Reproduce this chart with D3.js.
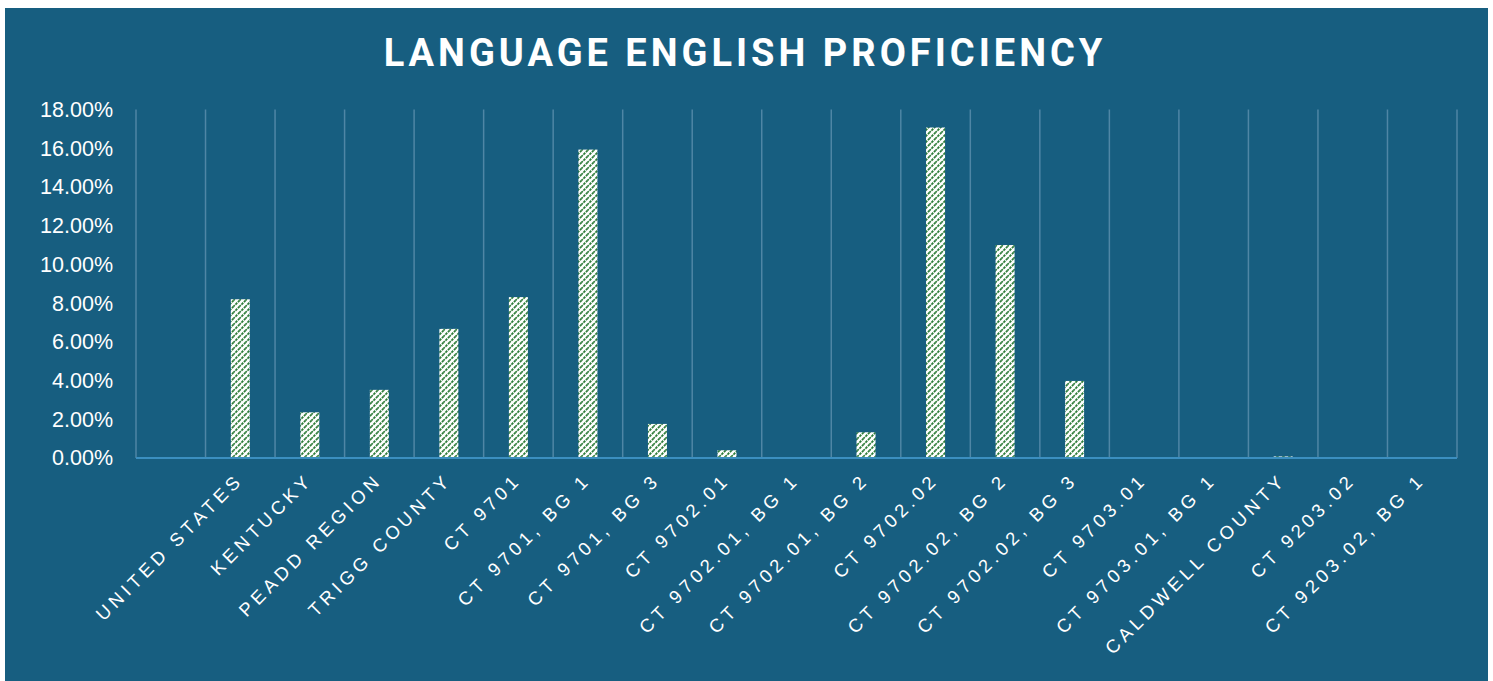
<!DOCTYPE html>
<html>
<head>
<meta charset="utf-8">
<script src="https://cdn.jsdelivr.net/npm/d3@7"></script>
<style>
  body { margin:0; background:#fff; }
  svg { display:block; }
</style>
</head>
<body>
<div id="container"></div>
<script>
// chart data
var categories = ['', 'UNITED STATES', 'KENTUCKY', 'PEADD REGION', 'TRIGG COUNTY', 'CT 9701',
  'CT 9701, BG 1', 'CT 9701, BG 3', 'CT 9702.01', 'CT 9702.01, BG 1', 'CT 9702.01, BG 2',
  'CT 9702.02', 'CT 9702.02, BG 2', 'CT 9702.02, BG 3', 'CT 9703.01', 'CT 9703.01, BG 1',
  'CALDWELL COUNTY', 'CT 9203.02', 'CT 9203.02, BG 1'];
var values = [0, 8.2, 2.36, 3.52, 6.67, 8.31, 15.93, 1.76, 0.40, 0, 1.33,
  17.07, 11.0, 3.98, 0, 0, 0.08, 0, 0];
var yTicks = [0, 2, 4, 6, 8, 10, 12, 14, 16, 18];
var title = 'LANGUAGE ENGLISH PROFICIENCY';

var W = 1493, H = 681;
var margin = { top:109.5, left:136, right:36, bottom:223 };

var svg = d3.select('#container').append('svg')
  .attr('width', W).attr('height', H);

// hatch pattern
var defs = svg.append('defs');
var pat = defs.append('pattern')
  .attr('id', 'hatch')
  .attr('patternUnits', 'userSpaceOnUse')
  .attr('width', 6).attr('height', 6);
pat.append('rect').attr('width', 6).attr('height', 6).attr('fill', '#ffffff');
pat.append('path')
  .attr('d', 'M-1,7 L7,-1 M-4,4 L4,-4 M2,10 L10,2')
  .attr('stroke', '#2f7d3a')
  .attr('stroke-width', 1.8)
  .attr('stroke-dasharray', '2.5,1');

// panel
svg.append('rect')
  .attr('x', 5).attr('y', 8)
  .attr('width', 1483).attr('height', 673)
  .attr('fill', '#175e80');

svg.append('text')
  .attr('x', 745).attr('y', 66)
  .attr('text-anchor', 'middle')
  .attr('font-family', 'Roboto, sans-serif')
  .attr('font-weight', 700)
  .attr('font-size', 38)
  .attr('letter-spacing', 4)
  .attr('fill', '#ffffff')
  .text(title);

var x = d3.scaleBand()
  .domain(categories.map(function(d, i){ return i; }))
  .range([margin.left, W - margin.right])
  .padding(0);

var y = d3.scaleLinear()
  .domain([0, 18])
  .range([458, margin.top]);

// vertical grid lines at band edges
var edges = d3.range(categories.length + 1).map(function(i){
  return i < categories.length ? x(i) : x(i - 1) + x.bandwidth();
});
svg.selectAll('line.grid')
  .data(edges)
  .enter().append('line')
  .classed('grid', true)
  .attr('x1', function(d){ return d; })
  .attr('x2', function(d){ return d; })
  .attr('y1', y(18))
  .attr('y2', y(0))
  .attr('stroke', '#4f86a5')
  .attr('stroke-width', 1.5);

// y axis labels
var yAxis = d3.axisLeft(y)
  .tickValues(yTicks)
  .tickSize(0)
  .tickPadding(23)
  .tickFormat(function(d){ return d3.format('.2f')(d) + '%'; });
var gy = svg.append('g')
  .attr('transform', 'translate(' + margin.left + ',0)')
  .call(yAxis);
gy.select('.domain').remove();
gy.selectAll('text')
  .attr('font-family', '"Liberation Sans", Arial, sans-serif')
  .attr('font-size', 21.5)
  .attr('fill', '#ffffff');

// bars
var barW = 19;
svg.selectAll('rect.bar')
  .data(values)
  .enter().append('rect')
  .classed('bar', true)
  .attr('x', function(d, i){ return x(i) + x.bandwidth() / 2 - barW / 2; })
  .attr('y', function(d){ return y(d); })
  .attr('width', barW)
  .attr('height', function(d){ return y(0) - y(d); })
  .attr('fill', 'url(#hatch)');

// x baseline
svg.append('line')
  .attr('x1', margin.left).attr('x2', W - margin.right)
  .attr('y1', y(0)).attr('y2', y(0))
  .attr('stroke', '#3b8fc0')
  .attr('stroke-width', 2);

// category labels
svg.selectAll('text.cat')
  .data(categories)
  .enter().append('text')
  .classed('cat', true)
  .attr('transform', function(d, i){
    var cx = x(i) + x.bandwidth() / 2 + 4;
    return 'translate(' + cx + ',481) rotate(-45)';
  })
  .attr('text-anchor', 'end')
  .attr('font-family', '"Liberation Sans", Arial, sans-serif')
  .attr('font-size', 18.5)
  .attr('letter-spacing', 4.3)
  .attr('fill', '#ffffff')
  .text(function(d){ return d; });
</script>
</body>
</html>
